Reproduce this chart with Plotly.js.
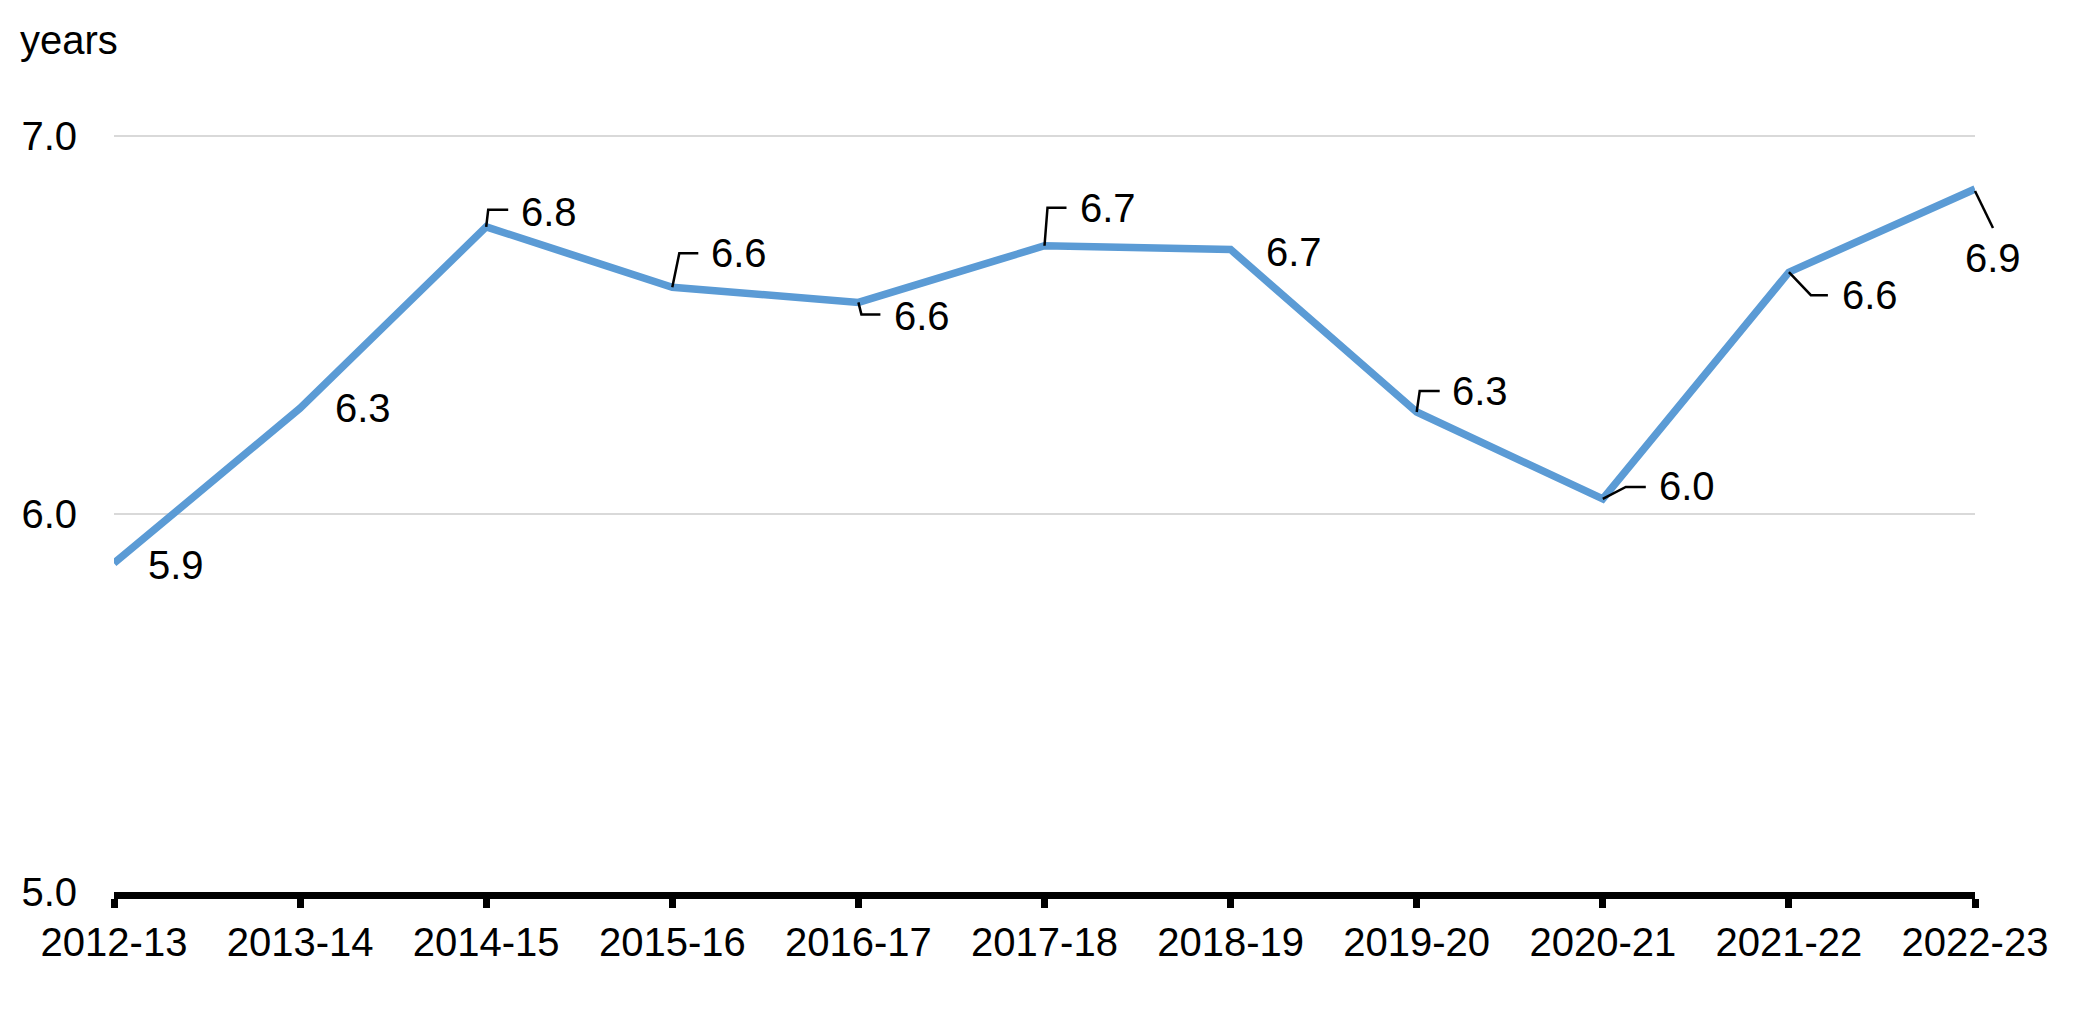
<!DOCTYPE html>
<html>
<head>
<meta charset="utf-8">
<script src="https://cdn.plot.ly/plotly-3.0.1.min.js"></script>
<style>
  html, body { margin: 0; padding: 0; background: #ffffff; }
  #chart { width: 2077px; height: 1021px; }
</style>
</head>
<body>
<div id="chart"></div>
<script>
// ---- data ----
var categories = ['2012-13', '2013-14', '2014-15', '2015-16', '2016-17', '2017-18',
                  '2018-19', '2019-20', '2020-21', '2021-22', '2022-23'];
var values = [5.87, 6.28, 6.76, 6.60, 6.56, 6.71, 6.70, 6.27, 6.04, 6.64, 6.86];
var labels = ['5.9', '6.3', '6.8', '6.6', '6.6', '6.7', '6.7', '6.3', '6.0', '6.6', '6.9'];
var yTickVals = [5, 6, 7];
var yTickText = ['5.0', '6.0', '7.0'];
var yUnit = 'years';

// ---- label placement (pixel offsets from each point, screen y down) ----
var labelOffsets = [
  [62, 2], [63, 0], [63, -15], [67, -34], [64, 14], [63, -38],
  [63, 2], [63, -21], [84, -13], [81, 23], [18, 69]
];
var leaders = [
  null, null,
  [[0, 0], [2, -17], [22, -17]],
  [[0, 0], [7, -34], [26, -34]],
  [[0, 0], [3, 12], [22, 12]],
  [[0, 0], [3, -38], [22, -38]],
  null,
  [[0, 0], [3, -21], [23, -21]],
  [[0, 0], [23, -12], [43, -12]],
  [[0, 0], [22, 23], [39, 23]],
  [[0, 2], [18, 39]]
];

var FONT = 'Liberation Sans, Arial, sans-serif';
var idx = categories.map(function (c, i) { return i; });
var xMax = categories.length - 1;

var trace = {
  type: 'scatter',
  mode: 'lines',
  x: idx,
  y: values,
  line: { color: '#5B9BD5', width: 7.5 },
  hoverinfo: 'skip'
};

var annotations = labels.map(function (t, i) {
  return {
    xref: 'x', yref: 'y', x: idx[i], y: values[i],
    text: t, showarrow: false,
    xanchor: 'center', yanchor: 'middle',
    xshift: labelOffsets[i][0], yshift: -labelOffsets[i][1],
    font: { family: FONT, size: 40, color: '#000000' }
  };
});
annotations.push({
  xref: 'paper', yref: 'paper', x: 0, y: 1,
  xanchor: 'left', yanchor: 'middle',
  xshift: -96, yshift: 95,
  text: yUnit, showarrow: false,
  font: { family: FONT, size: 40, color: '#000000' }
});

var shapes = [];
leaders.forEach(function (pts, i) {
  if (!pts) return;
  var d = pts.map(function (p, k) {
    return (k === 0 ? 'M' : 'L') + p[0] + ',' + (-p[1]);
  }).join(' ');
  shapes.push({
    type: 'path', xref: 'paper', yref: 'y',
    xsizemode: 'pixel', ysizemode: 'pixel',
    xanchor: idx[i] / xMax, yanchor: values[i],
    path: d,
    line: { color: '#000000', width: 2.5 }
  });
});

var layout = {
  width: 2077, height: 1021,
  margin: { l: 114, r: 102, t: 135, b: 129, pad: 0 },
  paper_bgcolor: '#ffffff', plot_bgcolor: '#ffffff',
  showlegend: false,
  font: { family: FONT, size: 40, color: '#000000' },
  xaxis: {
    type: 'linear',
    range: [0, xMax],
    tickvals: idx, ticktext: categories,
    showgrid: false, zeroline: false,
    showline: true, linecolor: '#000000', linewidth: 7,
    ticks: 'outside', ticklen: 9, tickwidth: 7, tickcolor: '#000000',
    tickfont: { family: FONT, size: 40, color: '#000000' },
    fixedrange: true
  },
  yaxis: {
    range: [5, 7.003],
    tickvals: yTickVals, ticktext: yTickText,
    showgrid: true, gridcolor: '#D9D9D9', gridwidth: 2,
    zeroline: false, showline: false, ticks: '',
    ticklabelstandoff: 36,
    tickfont: { family: FONT, size: 40, color: '#000000' },
    fixedrange: true
  },
  annotations: annotations,
  shapes: shapes
};

Plotly.newPlot('chart', [trace], layout, { displayModeBar: false, staticPlot: true });
</script>
</body>
</html>
